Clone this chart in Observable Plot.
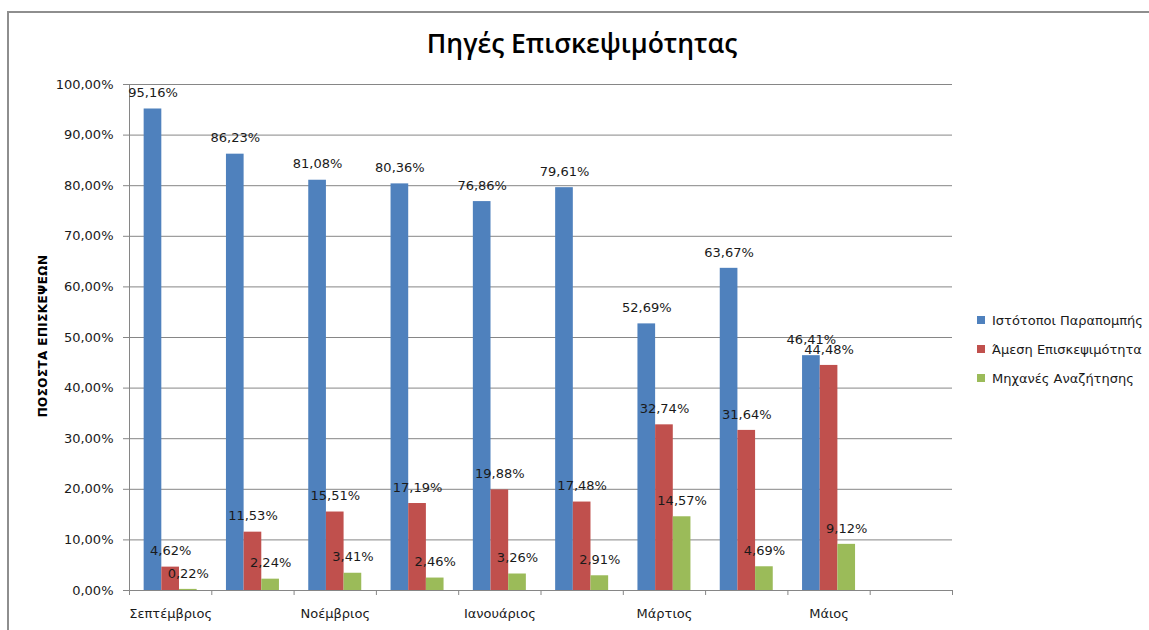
<!DOCTYPE html>
<html>
<head>
<meta charset="utf-8">
<script src="https://cdn.jsdelivr.net/npm/d3@7"></script>
<script src="https://cdn.jsdelivr.net/npm/@observablehq/plot@0.6"></script>
<style>
  html, body { margin: 0; padding: 0; background: #fff; overflow: hidden; }
  #wrap { position: relative; width: 1149px; height: 630px; overflow: hidden; font-family: "DejaVu Sans", Verdana, sans-serif; }
  #frame { position: absolute; left: 7px; top: 11px; width: 1200px; height: 700px; border-top: 2px solid #8e8e8e; border-left: 2px solid #8e8e8e; }
  #title { position: absolute; left: 0; width: 1164px; top: 25px; text-align: center; font-family: "Open Sans", sans-serif; font-weight: 600; font-size: 26.5px; color: #000; }
  .layer { position: absolute; left: 0; top: 0; }
  .layer text { fill: #1a1a1a; }
  #ylabel { position: absolute; left: 43px; top: 336px; transform: translate(-50%, -50%) rotate(-90deg); white-space: nowrap; font-weight: bold; font-size: 12px; letter-spacing: 0.4px; color: #000; }
  #legend { position: absolute; left: 977px; top: 312px; font-size: 13px; color: #1a1a1a; }
  .item { display: flex; align-items: center; height: 16px; margin-bottom: 13px; white-space: nowrap; }
  .sw { width: 8px; height: 8px; margin-right: 7px; }
</style>
</head>
<body>
<div id="wrap">
  <div id="frame"></div>
  <div id="bg" class="layer"></div>
  <div id="fg" class="layer"></div>
  <div id="title">Πηγές Επισκεψιμότητας</div>
  <div id="ylabel">ΠΟΣΟΣΤΑ ΕΠΙΣΚΕΨΕΩΝ</div>
  <div id="legend"></div>
</div>
<script>
const months = ["Σεπτέμβριος","Οκτώβριος","Νοέμβριος","Δεκέμβριος","Ιανουάριος","Φεβρουάριος","Μάρτιος","Απρίλιος","Μάιος","Ιούνιος"];
const series = ["Ιστότοποι Παραπομπής","Άμεση Επισκεψιμότητα","Μηχανές Αναζήτησης"];
const referral = [95.16, 86.23, 81.08, 80.36, 76.86, 79.61, 52.69, 63.67, 46.41];
const direct   = [4.62, 11.53, 15.51, 17.19, 19.88, 17.48, 32.74, 31.64, 44.48];
const search   = [0.22, 2.24, 3.41, 2.46, 3.26, 2.91, 14.57, 4.69, 9.12];
const colors = ["#4F81BD", "#C0504D", "#9BBB59"];
const yTicks = [0, 10, 20, 30, 40, 50, 60, 70, 80, 90, 100];
const labeledMonths = ["Σεπτέμβριος","Νοέμβριος","Ιανουάριος","Μάρτιος","Μάιος"];

const fmt = v => v.toFixed(2).replace(".", ",") + "%";
const seriesValues = [referral, direct, search];
const data = [];
seriesValues.forEach((vals, s) => vals.forEach((v, m) => data.push({month: months[m], series: series[s], value: v})));

const W = 1149, H = 630;
const margins = {marginLeft: 129, marginRight: 197, marginTop: 84, marginBottom: 40};

// background: grid, y axis, x axis (category boundaries)
const bg = Plot.plot({
  width: W, height: H, ...margins,
  style: {background: "transparent", fontFamily: "DejaVu Sans, Verdana, sans-serif", fontSize: "13px", color: "#868686"},
  x: {type: "linear", domain: [0, months.length], ticks: d3.range(0, months.length + 1), tickSize: 5, tickFormat: () => "", label: null},
  y: {domain: [0, 100], ticks: yTicks, tickSize: 6, tickPadding: 10, tickFormat: fmt, label: null},
  marks: [
    Plot.ruleY(yTicks, {stroke: "#868686"}),
    Plot.ruleX([0], {y1: 0, y2: 100, stroke: "#868686"}),
    Plot.text(labeledMonths, {x: d => months.indexOf(d) + 0.5, y: 0, text: d => d, dy: 23, fontSize: 13, fill: "#1a1a1a"})
  ]
});
document.getElementById("bg").appendChild(bg);

// foreground: bars and data labels
const fg = Plot.plot({
  width: W, height: H, ...margins,
  style: {background: "transparent", fontFamily: "DejaVu Sans, Verdana, sans-serif", fontSize: "13px"},
  facet: {data, x: "month"},
  fx: {domain: months, paddingInner: 0.356, paddingOuter: 0.178, round: false, axis: null, label: null},
  x: {domain: series, padding: 0, round: false, axis: null},
  y: {domain: [0, 100], axis: null},
  color: {domain: series, range: colors},
  marks: [
    Plot.barY(data, {x: "series", y: "value", fill: "series"}),
    Plot.text(data, {x: "series", y: "value", text: d => fmt(d.value), dy: -16, lineAnchor: "middle", fontSize: 13, fill: "#1a1a1a"})
  ]
});
document.getElementById("fg").appendChild(fg);

const legend = document.getElementById("legend");
series.forEach((s, i) => {
  const it = document.createElement("div");
  it.className = "item";
  it.innerHTML = `<div class="sw" style="background:${colors[i]}"></div><span>${s}</span>`;
  legend.appendChild(it);
});
</script>
</body>
</html>
